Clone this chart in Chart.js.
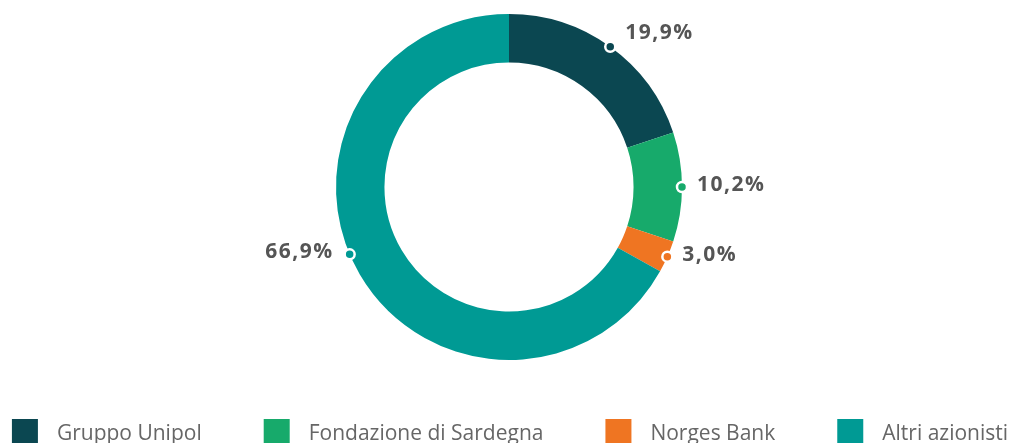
<!DOCTYPE html>
<html>
<head>
<meta charset="utf-8">
<script src="https://cdn.jsdelivr.net/npm/chart.js@4/dist/chart.umd.min.js"></script>
<style>
  html, body { margin: 0; padding: 0; background: #ffffff; overflow: hidden; }
  #wrap { width: 1020px; height: 443px; position: relative; }
</style>
</head>
<body>
<div id="wrap"><canvas id="c"></canvas></div>
<script>
const categories = ["Gruppo Unipol", "Fondazione di Sardegna", "Norges Bank", "Altri azionisti"];
const shares = [19.9, 10.2, 3.0, 66.9];
const valueLabels = ["19,9%", "10,2%", "3,0%", "66,9%"];
const colors = ["#0b4751", "#17aa6b", "#ef7522", "#009a94"];

const calloutPlugin = {
  id: 'callouts',
  afterDatasetsDraw(chart, args, opts) {
    const ctx = chart.ctx;
    const meta = chart.getDatasetMeta(0);
    const nudge = opts.angleNudge || [];
    ctx.save();
    meta.data.forEach((arc, i) => {
      const p = arc.getProps(['x', 'y', 'startAngle', 'endAngle', 'outerRadius'], true);
      const mid = (p.startAngle + p.endAngle) / 2 + (nudge[i] || 0) * Math.PI / 180;
      const dx = Math.cos(mid), dy = Math.sin(mid);
      const px = p.x + dx * p.outerRadius;
      const py = p.y + dy * p.outerRadius;
      ctx.beginPath();
      ctx.arc(px, py, 5, 0, Math.PI * 2);
      ctx.fillStyle = colors[i];
      ctx.fill();
      ctx.lineWidth = 2.5;
      ctx.strokeStyle = '#ffffff';
      ctx.stroke();
      ctx.font = '700 21px "Open Sans"';
      ctx.letterSpacing = '1.5px';
      ctx.fillStyle = '#555555';
      ctx.textBaseline = 'middle';
      const up = Math.max(0, -dy);
      const ty = py - 2 - 14 * up;
      if (dx >= 0) {
        ctx.textAlign = 'left';
        ctx.fillText(valueLabels[i], px + 15, ty);
      } else {
        ctx.textAlign = 'right';
        ctx.fillText(valueLabels[i], px - 16, ty);
      }
    });
    ctx.restore();
  }
};

const legendPlugin = {
  id: 'bottomLegend',
  afterDraw(chart) {
    const ctx = chart.ctx;
    const labels = chart.data.labels;
    const bg = chart.data.datasets[0].backgroundColor;
    ctx.save();
    ctx.font = '400 21px "Open Sans"';
    const box = 26, textGap = 19, itemGap = 62;
    const widths = labels.map(l => box + textGap + ctx.measureText(l).width);
    const total = widths.reduce((a, b) => a + b, 0) + itemGap * (labels.length - 1);
    let x = (chart.width - total) / 2;
    labels.forEach((l, i) => {
      ctx.fillStyle = bg[i];
      ctx.fillRect(x, 419, box, box);
      ctx.fillStyle = '#666666';
      ctx.textAlign = 'left';
      ctx.textBaseline = 'alphabetic';
      ctx.fillText(l, x + box + textGap, 440);
      x += widths[i] + itemGap;
    });
    ctx.restore();
  }
};

new Chart(document.getElementById('c'), {
  type: 'doughnut',
  data: {
    labels: categories,
    datasets: [{
      data: shares,
      backgroundColor: colors,
      borderWidth: 0,
      hoverOffset: 0
    }]
  },
  options: {
    responsive: true,
    maintainAspectRatio: false,
    animation: false,
    cutout: '72%',
    layout: { padding: { top: 14, bottom: 83, left: 0, right: 2 } },
    plugins: {
      legend: { display: false },
      tooltip: { enabled: false },
      callouts: { angleNudge: [0, 0, 0, 7.5] }
    }
  },
  plugins: [calloutPlugin, legendPlugin]
});
</script>
</body>
</html>
